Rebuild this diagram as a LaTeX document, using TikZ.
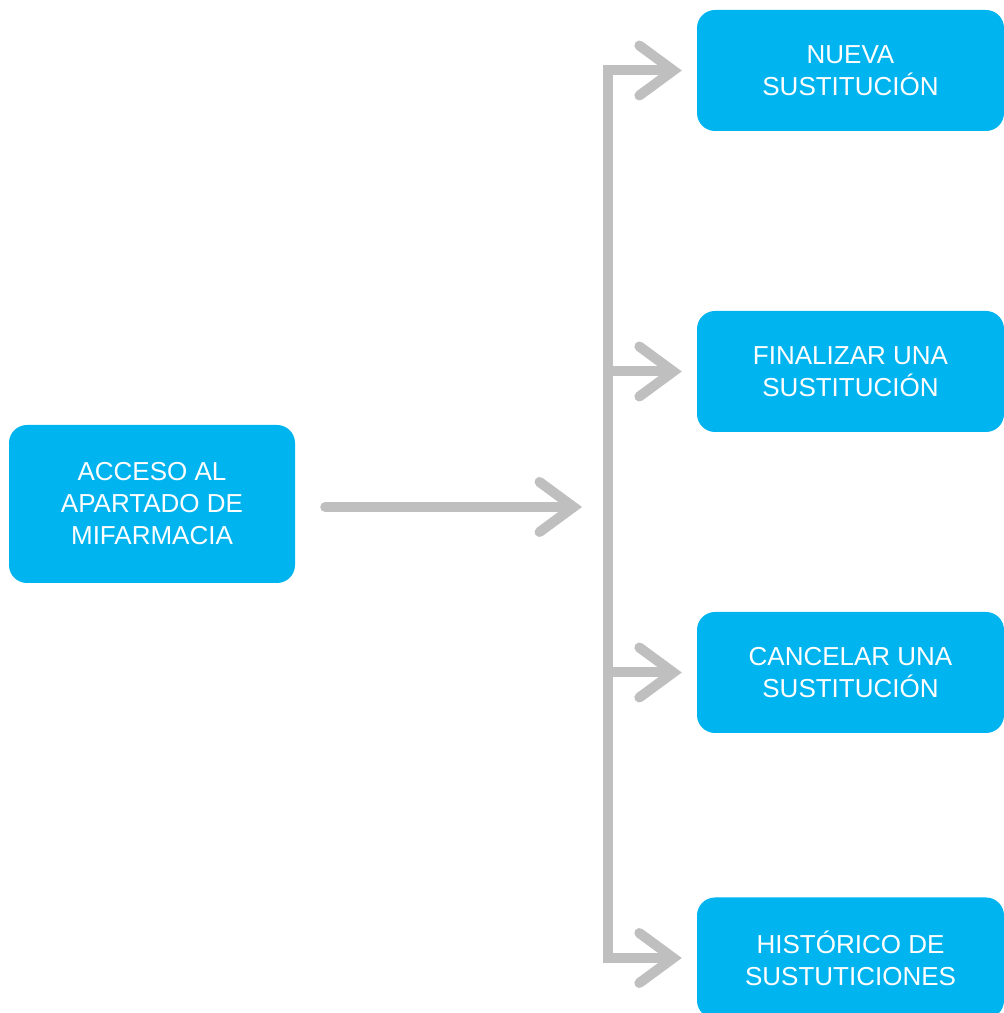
\documentclass[tikz,border=0pt]{standalone}
\usepackage{fontspec}
\setmainfont{Liberation Sans}
\usetikzlibrary{arrows.meta}
\definecolor{boxcyan}{HTML}{00B4F0}
\definecolor{arrgray}{HTML}{BFBFBF}
\tikzset{chev/.tip={Straight Barb[length=34pt, width=50pt, line cap=round, line join=miter]}}
\begin{document}
\begin{tikzpicture}[x=1pt,y=1pt,
  box/.style={fill=boxcyan, rounded corners=18pt, text=white, align=center,
    font=\fontsize{26}{32}\selectfont, inner sep=0pt},
  rbox/.style={box, minimum width=307pt, minimum height=121pt},
  conn/.style={draw=arrgray, line width=10pt}
]
\useasboundingbox (0,0) rectangle (1004,1013);
\node[box, minimum width=286pt, minimum height=158pt] (a) at (152,509) {ACCESO AL\\APARTADO DE\\MIFARMACIA};
\node[rbox] (n1) at (850.5,942.5) {NUEVA\\SUSTITUCIÓN};
\node[rbox] (n2) at (850.5,641.5) {FINALIZAR UNA\\SUSTITUCIÓN};
\node[rbox] (n3) at (850.5,340.5) {CANCELAR UNA\\SUSTITUCIÓN};
\node[rbox] (n4) at (850.5,55) {HISTÓRICO DE\\SUSTUTICIONES};
\coordinate (t1) at (608,0 |- n1.west);
\coordinate (t2) at (608,0 |- n2.west);
\coordinate (t3) at (608,0 |- n3.west);
\coordinate (t4) at (608,0 |- n4.west);
\coordinate (e1) at ([xshift=-15pt]n1.west);
\coordinate (e2) at ([xshift=-15pt]n2.west);
\coordinate (e3) at ([xshift=-15pt]n3.west);
\coordinate (e4) at ([xshift=-15pt]n4.west);
\coordinate (m) at (582,506);
\draw[conn, line join=miter, chev-chev] (e1) -- (t1) -- (t4) -- (e4);
\draw[conn, -chev] (t2) -- (e2);
\draw[conn, -chev] (t3) -- (e3);
\draw[conn, line cap=round, -chev] ([xshift=30pt]a.east |- m) -- (m);
\end{tikzpicture}
\end{document}
